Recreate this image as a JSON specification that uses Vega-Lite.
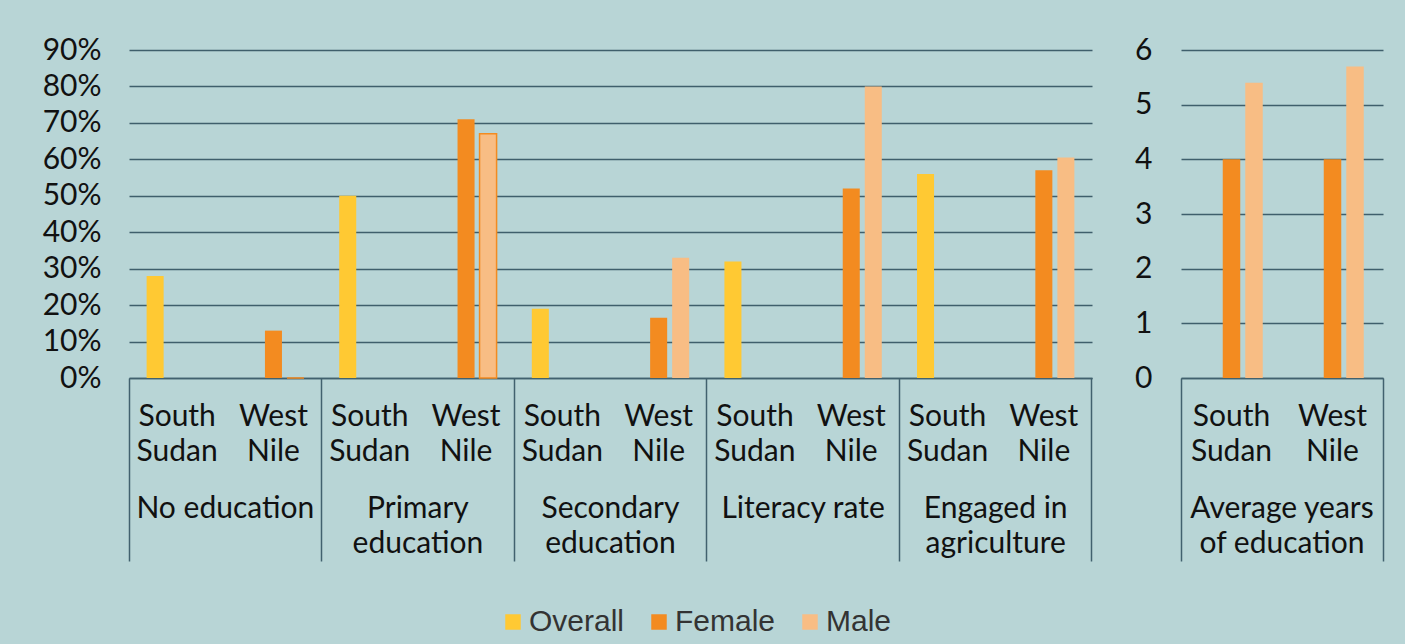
{
  "$schema": "https://vega.github.io/schema/vega-lite/v6.json",
  "background": "#B8D5D6",
  "padding": {"left": 42, "top": 35, "right": 25, "bottom": 12},
  "config": {"view": {"stroke": null}, "font": "Lato"},
  "datasets": {
    "pct": [
      {"cell": "No education|South Sudan", "series": "Overall", "value": 0.28},
      {"cell": "No education|West Nile", "series": "Female", "value": 0.13},
      {"cell": "No education|West Nile", "series": "Male", "value": 0},
      {"cell": "Primary education|South Sudan", "series": "Overall", "value": 0.50},
      {"cell": "Primary education|West Nile", "series": "Female", "value": 0.71},
      {"cell": "Primary education|West Nile", "series": "Male", "value": 0.67},
      {"cell": "Secondary education|South Sudan", "series": "Overall", "value": 0.19},
      {"cell": "Secondary education|West Nile", "series": "Female", "value": 0.165},
      {"cell": "Secondary education|West Nile", "series": "Male", "value": 0.33},
      {"cell": "Literacy rate|South Sudan", "series": "Overall", "value": 0.32},
      {"cell": "Literacy rate|West Nile", "series": "Female", "value": 0.52},
      {"cell": "Literacy rate|West Nile", "series": "Male", "value": 0.80},
      {"cell": "Engaged in agriculture|South Sudan", "series": "Overall", "value": 0.56},
      {"cell": "Engaged in agriculture|West Nile", "series": "Female", "value": 0.57},
      {"cell": "Engaged in agriculture|West Nile", "series": "Male", "value": 0.605}
    ],
    "years": [
      {"cell": "Average years of education|South Sudan", "series": "Female", "value": 4.0},
      {"cell": "Average years of education|South Sudan", "series": "Male", "value": 5.4},
      {"cell": "Average years of education|West Nile", "series": "Female", "value": 4.0},
      {"cell": "Average years of education|West Nile", "series": "Male", "value": 5.7}
    ]
  },
  "hconcat": [
    {
      "width": 963,
      "height": 328,
      "data": {"name": "pct"},
      "layer": [
        {
          "mark": {"type": "bar", "strokeWidth": 1.5},
          "encoding": {
            "x": {
              "field": "cell", "type": "nominal",
              "scale": {"domain": ["No education|South Sudan", "No education|West Nile", "Primary education|South Sudan", "Primary education|West Nile", "Secondary education|South Sudan", "Secondary education|West Nile", "Literacy rate|South Sudan", "Literacy rate|West Nile", "Engaged in agriculture|South Sudan", "Engaged in agriculture|West Nile"], "paddingInner": 0, "paddingOuter": 0},
              "axis": {"orient": "bottom", "title": null, "ticks": false, "domain": true, "domainColor": "#41616E", "domainWidth": 1.5, "labelAngle": 0, "labelPadding": 23, "labelFont": "Lato", "labelFontSize": 30, "labelColor": "#111111", "labelLineHeight": 35, "labelOverlap": false, "labelBound": false, "labelLimit": 400,
                "labelExpr": "split(split(datum.value,'|')[1],' ')"}
            },
            "xOffset": {"field": "series", "type": "nominal", "scale": {"domain": ["Overall", "Female", "Male"], "paddingInner": 0.227, "paddingOuter": 0.8}},
            "y": {
              "field": "value", "type": "quantitative",
              "scale": {"domain": [0, 0.9], "nice": false},
              "axis": {"title": null, "values": [0, 0.1, 0.2, 0.3, 0.4, 0.5, 0.6, 0.7, 0.8, 0.9], "format": ".0%", "domain": false, "ticks": false, "grid": true, "gridColor": "#3F5F6C", "gridWidth": 1.6, "labelFont": "Lato", "labelFontSize": 30, "labelColor": "#111111", "labelPadding": 28}
            },
            "color": {
              "field": "series", "type": "nominal",
              "scale": {"domain": ["Overall", "Female", "Male"], "range": ["#FFC933", "#F38B20", "#F8BD84"]},
              "legend": {"orient": "none", "legendX": 369, "legendY": 557, "direction": "horizontal", "title": null, "symbolType": "square", "symbolSize": 240, "symbolStrokeWidth": 0, "labelFont": "Liberation Sans", "labelFontSize": 30, "labelColor": "#333333", "columnPadding": 19, "labelOffset": 1}
            },
            "stroke": {
              "condition": {"test": "datum.series == 'Male' && (indexof(datum.cell, 'Primary') == 0 || indexof(datum.cell, 'No education') == 0)", "value": "#F38B20"},
              "value": "transparent"
            }
          }
        },
        {
          "mark": {"type": "bar", "opacity": 0},
          "encoding": {
            "x": {"field": "cell", "type": "nominal",
              "axis": {"orient": "bottom", "title": null, "values": ["No education|South Sudan", "Primary education|South Sudan", "Secondary education|South Sudan", "Literacy rate|South Sudan", "Engaged in agriculture|South Sudan"], "bandPosition": 0, "labels": false, "domain": false, "ticks": true, "tickSize": 183, "tickWidth": 1.5, "tickColor": "#41616E"}}
          }
        },
        {
          "mark": {"type": "bar", "opacity": 0},
          "encoding": {
            "x": {"field": "cell", "type": "nominal",
              "axis": {"orient": "bottom", "title": null, "values": ["Engaged in agriculture|West Nile"], "bandPosition": 1, "labels": false, "domain": false, "ticks": true, "tickSize": 183, "tickWidth": 1.5, "tickColor": "#41616E"}}
          }
        },
        {
          "mark": {"type": "bar", "opacity": 0},
          "encoding": {
            "x": {"field": "cell", "type": "nominal",
              "axis": {"orient": "bottom", "title": null, "values": ["No education|South Sudan", "Primary education|South Sudan", "Secondary education|South Sudan", "Literacy rate|South Sudan", "Engaged in agriculture|South Sudan"], "ticks": false, "domain": false, "labelAngle": 0, "labelOffset": 48.15, "labelPadding": 115, "labelFont": "Lato", "labelFontSize": 30, "labelColor": "#111111", "labelLineHeight": 35, "labelOverlap": false, "labelBound": false, "labelLimit": 400,
                "labelExpr": "split(datum.value,'|')[0] == 'Primary education' ? ['Primary','education'] : split(datum.value,'|')[0] == 'Secondary education' ? ['Secondary','education'] : split(datum.value,'|')[0] == 'Engaged in agriculture' ? ['Engaged in','agriculture'] : split(datum.value,'|')[0]"}}
          }
        }
      ],
      "resolve": {"axis": {"x": "independent"}}
    },
    {
      "width": 202,
      "height": 328,
      "data": {"name": "years"},
      "layer": [
        {
          "mark": {"type": "bar"},
          "encoding": {
            "x": {
              "field": "cell", "type": "nominal",
              "scale": {"domain": ["Average years of education|South Sudan", "Average years of education|West Nile"], "paddingInner": 0, "paddingOuter": 0},
              "axis": {"orient": "bottom", "title": null, "ticks": false, "domain": true, "domainColor": "#41616E", "domainWidth": 1.5, "labelAngle": 0, "labelPadding": 23, "labelFont": "Lato", "labelFontSize": 30, "labelColor": "#111111", "labelLineHeight": 35, "labelOverlap": false, "labelBound": false, "labelLimit": 400,
                "labelExpr": "split(split(datum.value,'|')[1],' ')"}
            },
            "xOffset": {"field": "series", "type": "nominal", "scale": {"domain": ["Overall", "Female", "Male"], "paddingInner": 0.222, "paddingOuter": 0.855}},
            "y": {
              "field": "value", "type": "quantitative",
              "scale": {"domain": [0, 6], "nice": false},
              "axis": {"title": null, "values": [0, 1, 2, 3, 4, 5, 6], "format": "d", "domain": false, "ticks": false, "grid": true, "gridColor": "#3F5F6C", "gridWidth": 1.6, "labelFont": "Lato", "labelFontSize": 30, "labelColor": "#111111", "labelPadding": 29}
            },
            "color": {
              "field": "series", "type": "nominal",
              "scale": {"domain": ["Overall", "Female", "Male"], "range": ["#FFC933", "#F38B20", "#F8BD84"]}
            }
          }
        },
        {
          "mark": {"type": "bar", "opacity": 0},
          "encoding": {
            "x": {"field": "cell", "type": "nominal",
              "axis": {"orient": "bottom", "title": null, "values": ["Average years of education|South Sudan"], "bandPosition": 0, "labels": false, "domain": false, "ticks": true, "tickSize": 183, "tickWidth": 1.5, "tickColor": "#41616E"}}
          }
        },
        {
          "mark": {"type": "bar", "opacity": 0},
          "encoding": {
            "x": {"field": "cell", "type": "nominal",
              "axis": {"orient": "bottom", "title": null, "values": ["Average years of education|West Nile"], "bandPosition": 1, "labels": false, "domain": false, "ticks": true, "tickSize": 183, "tickWidth": 1.5, "tickColor": "#41616E"}}
          }
        },
        {
          "mark": {"type": "bar", "opacity": 0},
          "encoding": {
            "x": {"field": "cell", "type": "nominal",
              "axis": {"orient": "bottom", "title": null, "values": ["Average years of education|South Sudan"], "ticks": false, "domain": false, "labelAngle": 0, "labelOffset": 50.5, "labelPadding": 115, "labelFont": "Lato", "labelFontSize": 30, "labelColor": "#111111", "labelLineHeight": 35, "labelOverlap": false, "labelBound": false, "labelLimit": 400,
                "labelExpr": "['Average years','of education']"}}
          }
        }
      ],
      "resolve": {"axis": {"x": "independent"}}
    }
  ],
  "spacing": 89,
  "bounds": "flush",
  "resolve": {"scale": {"xOffset": "independent", "color": "shared"}}
}
